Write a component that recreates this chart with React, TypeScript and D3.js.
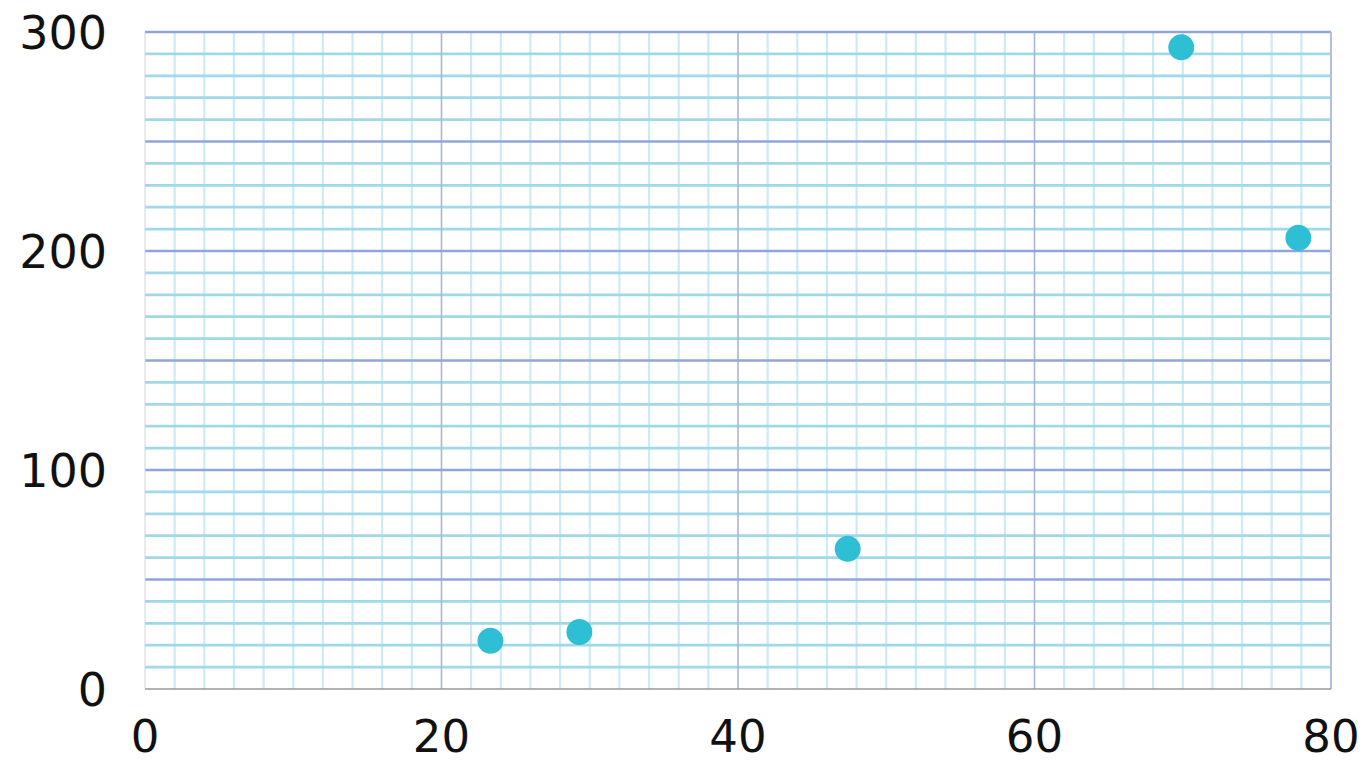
import React from "react";
import * as d3 from "d3";

const xValues = [23.3, 29.3, 47.4, 69.9, 77.8];
const yValues = [22, 26, 64, 293, 206];
const xTicks = [0, 20, 40, 60, 80];
const yTicks = [0, 100, 200, 300];

const W = 1365;
const H = 764;
const M = { left: 145, right: 34, top: 32, bottom: 75 };

export default function App() {
  const x = d3.scaleLinear().domain([0, 80]).range([M.left, W - M.right]);
  const y = d3.scaleLinear().domain([0, 300]).range([H - M.bottom, M.top]);
  const xMinor = d3.range(0, 81, 2).filter((v) => v % 20 !== 0);
  const xMajor = [20, 40, 60];
  const yMinor = d3.range(0, 301, 10).filter((v) => v % 50 !== 0);
  const yMajor = [50, 100, 150, 200, 250, 300];
  const font = "'DejaVu Sans', sans-serif";
  return (
    <svg
      width={W}
      height={H}
      style={{ position: "absolute", left: 0, top: 0, background: "#fff" }}
    >
      {xMinor.map((v) => (
        <line key={"xm" + v} x1={x(v)} x2={x(v)} y1={y(300)} y2={y(0)} stroke="#cdebf4" strokeWidth={2.2} />
      ))}
      {yMinor.map((v) => (
        <line key={"ym" + v} x1={x(0)} x2={x(80)} y1={y(v)} y2={y(v)} stroke="#9fd9e7" strokeWidth={2.8} />
      ))}
      {xMajor.map((v) => (
        <line key={"xM" + v} x1={x(v)} x2={x(v)} y1={y(300)} y2={y(0)} stroke="#a9b5d4" strokeWidth={1.6} />
      ))}
      {yMajor.map((v) => (
        <line key={"yM" + v} x1={x(0)} x2={x(80)} y1={y(v)} y2={y(v)} stroke="#8fa7d8" strokeWidth={2.4} />
      ))}
      <line x1={x(80)} x2={x(80)} y1={y(300)} y2={y(0)} stroke="#b3bfe0" strokeWidth={2} />
      <line x1={x(0)} x2={x(0)} y1={y(300)} y2={y(0)} stroke="#d4d4d4" strokeWidth={1} />
      <line x1={x(0)} x2={x(80)} y1={y(0)} y2={y(0)} stroke="#999" strokeWidth={1.5} />
      {xValues.map((v, i) => (
        <circle key={"p" + i} cx={x(v)} cy={y(yValues[i])} r={13} fill="#2fbfd4" />
      ))}
      {yTicks.map((v) => (
        <text key={"yt" + v} x={107} y={y(v)} dy="0.36em" textAnchor="end" fontFamily={font} fontSize={46} fill="#111">
          {v}
        </text>
      ))}
      {xTicks.map((v) => (
        <text key={"xt" + v} x={x(v)} y={752} textAnchor="middle" fontFamily={font} fontSize={45} fill="#111">
          {v}
        </text>
      ))}
    </svg>
  );
}
